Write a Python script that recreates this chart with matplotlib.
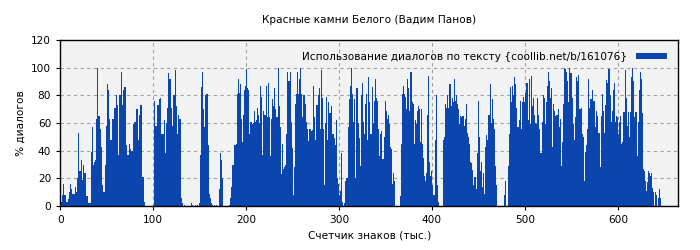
import numpy as np
import matplotlib
matplotlib.use('Agg')
import matplotlib.pyplot as plt

# % диалогов по тысячам знаков
seg_a = [3, 8, 8, 16, 8, 8, 3, 3, 5, 10,
         16, 12, 9, 9, 9, 14, 14, 10, 20, 53,
         25, 25, 33, 19, 30, 24, 24, 7, 7, 2,
         5, 2, 2, 39, 57, 30, 32, 33, 63, 100,
         65, 65, 56, 43, 43, 15, 10, 10, 30, 58,
         88, 84, 63, 48, 48, 63]
seg_b = [63, 71, 71, 90,
         80, 73, 37, 80, 80, 97, 73, 84, 86, 86,
         44, 37, 37, 24, 45, 41, 40, 40, 59, 61,
         61, 70, 70, 48, 66, 73, 73, 100, 21, 21,
         3, 0, 0, 0, 0, 0, 0, 0, 0, 1,
         76, 94, 58, 58, 73, 73, 77, 78, 52, 52,
         52, 62]
seg_c = [38, 60, 71, 70, 96, 92, 92, 71,
         58, 80, 80, 98, 72, 52, 66, 63, 63, 36,
         6, 2, 0, 1, 0, 0, 0, 0, 0, 0,
         2, 1, 0, 0, 1, 1, 0, 1, 0, 2,
         37, 86, 97, 70, 57, 80, 81, 81, 66, 44,
         9, 6, 2, 1, 0, 1, 0, 1]
seg_d = [0, 0,
         12, 38, 52, 33, 20, 0, 0, 0, 0, 0,
         0, 1, 6, 14, 30, 30, 50, 44, 44, 45,
         81, 92, 82, 88, 63, 46, 66, 84, 87, 99,
         92, 85, 84, 52, 61, 61, 59, 60, 69, 61,
         62, 71, 66, 60, 87, 64, 79, 37, 69, 66,
         66, 87, 64, 89]
seg_e = [64, 36, 63, 77, 72, 81,
         85, 70, 64, 64, 100, 72, 57, 23, 45, 27,
         28, 30, 52, 70, 97, 90, 90, 97, 61, 42,
         8, 28, 74, 81, 97, 81, 92, 100, 100, 81,
         64, 80, 80, 74, 61, 56, 47, 56, 56, 54,
         55, 61, 87, 64, 48, 73, 73, 80, 85, 56]
seg_f = [98, 78, 56, 15, 60, 52, 79, 48, 75, 67,
         67, 72, 52, 52, 49, 44, 62, 20, 16, 8,
         14, 11, 38, 3, 0, 2, 18, 20, 20, 57,
         77, 87, 100, 81, 69, 61, 77, 20, 85, 85,
         60, 49, 29, 80, 89, 61, 52, 74, 72, 81,
         48, 93, 75, 52, 52, 86]
seg_g = [60, 76, 92, 78,
         76, 56, 48, 36, 52, 54, 34, 34, 50, 76,
         69, 63, 66, 59, 43, 41, 24, 16, 24, 18,
         0, 0, 0, 0, 0, 7, 45, 81, 87, 81,
         89, 79, 70, 92, 85, 69, 97, 97, 75, 74,
         45, 62, 59, 69, 72, 60, 70, 46, 70, 45,
         35, 22]
seg_h = [18, 24, 66, 94, 32, 22, 25, 7,
         15, 8, 8, 48, 80, 15, 3, 0, 0, 0,
         0, 48, 50, 61, 74, 71, 80, 71, 88, 88,
         72, 78, 75, 92, 76, 80, 74, 68, 70, 59,
         65, 64, 65, 65, 58, 63, 74, 53, 50, 45,
         32, 38, 31, 26, 15, 21, 21, 12]
seg_i = [38, 76,
         50, 25, 32, 14, 24, 9, 28, 43, 51, 48,
         66, 66, 88, 60, 77, 63, 56, 29, 15, 0,
         0, 0, 0, 0, 0, 0, 0, 8, 18, 0,
         0, 29, 52, 86, 92, 75, 87, 80, 93, 88,
         71, 57, 57, 62, 76, 56, 75, 79, 85, 75,
         82, 89, 89, 62]
seg_j = [92, 59, 94, 72, 78, 66,
         60, 59, 43, 78, 66, 56, 38, 38, 61, 80,
         78, 59, 75, 87, 97, 90, 85, 78, 85, 43,
         74, 69, 65, 66, 66, 70, 57, 63, 29, 46,
         74, 69, 100, 99, 97, 90, 75, 100, 96, 96,
         78, 59, 48, 64, 93, 85, 90, 95, 70, 70]
seg_k = [71, 52, 50, 18, 39, 44, 56, 92, 71, 78,
         77, 77, 84, 76, 76, 57, 69, 65, 53, 53,
         28, 65, 81, 89, 69, 53, 73, 91, 89, 99,
         99, 80, 61, 69, 84, 89, 61, 71, 65, 64,
         52, 61, 65, 45, 46, 68, 68, 98, 78, 58,
         68, 50, 57, 68, 93, 100]
seg_l = [90, 64, 68, 68, 36, 61, 84, 97, 92, 67,
         28, 27, 25, 18, 11, 17, 25, 24, 22, 24,
         13, 10, 0, 10, 17, 8, 0, 6, 12, 6]

dialog_pct = (seg_a + seg_b + seg_c + seg_d + seg_e + seg_f +
              seg_g + seg_h + seg_i + seg_j + seg_k + seg_l)
kchars = np.arange(1, len(dialog_pct) + 1)

title = 'Красные камни Белого (Вадим Панов)'
label = 'Использование диалогов по тексту {coollib.net/b/161076}'
bar_color = '#0a46ad'
fs = 7.6

fig = plt.figure(figsize=(7, 2.5), dpi=100)
ax = fig.add_axes([0.086, 0.176, 0.883, 0.664])
ax.set_facecolor('#f2f2f2')

ax.bar(kchars, dialog_pct, width=1.0, color=bar_color, linewidth=0, label=label)

ax.set_xlim(0, 665)
ax.set_ylim(0, 120)
ax.set_xticks(np.arange(0, 700, 100))
ax.set_yticks(np.arange(0, 121, 20))
ax.tick_params(labelsize=fs, length=3)
ax.grid(True, color='#a0a0a0', linestyle=(0, (3, 3)), linewidth=0.8)
ax.set_axisbelow(True)
for s in ax.spines.values():
    s.set_linewidth(1.0)

ax.set_title(title, fontsize=fs, pad=12)
ax.set_xlabel('Счетчик знаков (тыс.)', fontsize=fs)
ax.set_ylabel('% диалогов', fontsize=fs)

ax.legend(loc='upper right', fontsize=fs, frameon=False, markerfirst=False,
          handlelength=2.9, handleheight=0.6, borderaxespad=0.7,
          handletextpad=0.9)

fig.savefig('out.png')
